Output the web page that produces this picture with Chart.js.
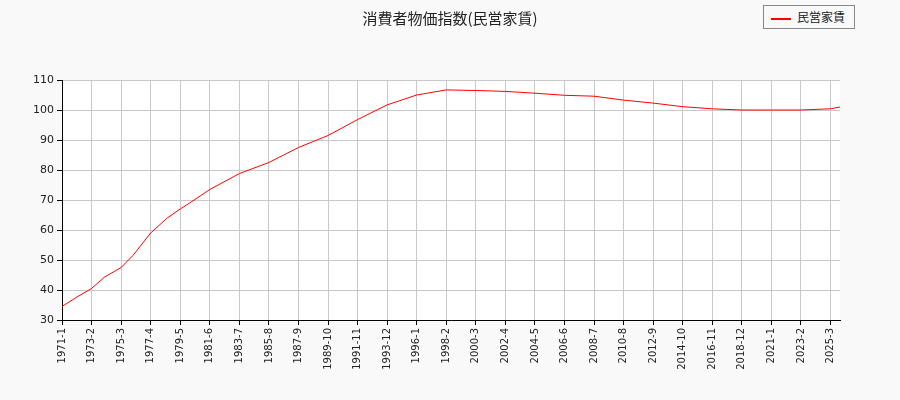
<!DOCTYPE html>
<html><head><meta charset="utf-8">
<script src="https://cdn.jsdelivr.net/npm/chart.js@4"></script>
<style>
body{margin:0;background:#f9f9f9;font-family:"Noto Sans CJK JP","DejaVu Sans",sans-serif;}
#wrap{position:relative;width:900px;height:400px;}
#title{position:absolute;top:7px;left:0;width:900px;text-align:center;font-size:15px;color:#222;}
#legend{position:absolute;left:763px;top:5px;width:90px;height:22px;border:1px solid #888;background:#f9f9f9;font-size:12px;line-height:22px;color:#222;}
#legend span{display:inline-block;width:20px;height:2px;background:#f00;vertical-align:middle;margin:0 6px 0 7px;}
</style></head><body>
<div id="wrap"><canvas id="c" width="900" height="400"></canvas>
<div id="title">消費者物価指数(民営家賃)</div>
<div id="legend"><span></span>民営家賃</div></div>
<script>
const startYear = 1971, monthCount = 659;
const seriesName = "民営家賃";
const pointMonths = ["1971-1","1972-1","1973-2","1974-1","1975-3","1976-1","1977-4","1978-6","1979-5","1980-1","1981-6","1983-7","1985-8","1987-9","1989-10","1991-11","1993-12","1996-1","1998-2","2000-3","2002-4","2004-5","2006-6","2008-7","2010-8","2012-9","2014-10","2016-11","2018-12","2021-1","2023-2","2025-3","2025-11"];
const pointValues = [34.5,37.5,40.5,44.3,47.5,51.5,59,64,67,69,73.5,78.8,82.5,87.5,91.5,96.8,101.7,105,106.7,106.5,106.2,105.6,104.9,104.6,103.3,102.3,101.1,100.4,100.0,100.0,100.0,100.4,101.0];
const labels = [];
for (let i=0;i<monthCount;i++){ labels.push((startYear+Math.floor(i/12))+"-"+(i%12+1)); }
new Chart(document.getElementById('c'),{
 type:'line',
 data:{labels,datasets:[{label:seriesName,data:pointMonths.map((m,i)=>({x:m,y:pointValues[i]})),borderColor:'#ff0000',borderWidth:1,pointRadius:0,tension:0}]},
 plugins:[{id:'bg',beforeDraw(ch){const a=ch.chartArea,c=ch.ctx;c.save();c.fillStyle='#fff';c.fillRect(a.left,a.top,a.right-a.left,a.bottom-a.top);c.restore();}}],
 options:{responsive:false,animation:false,
  layout:{padding:{top:80,right:60,left:0,bottom:0}},
  plugins:{legend:{display:false},title:{display:false},tooltip:{enabled:false}},
  scales:{
   x:{type:'category',offset:false,
     afterBuildTicks(s){s.ticks=s.ticks.filter(t=>t.value%25===0);},
     afterFit(s){s.height=80;},
     border:{color:'#000'},
     grid:{color:'#c8c8c8',tickColor:'#000',tickLength:5},
     ticks:{autoSkip:false,maxRotation:90,minRotation:90,color:'#222',font:{family:'DejaVu Sans',size:10}}},
   y:{min:30,max:110,afterFit(s){s.width=62;},
     border:{color:'#000'},
     grid:{color:c=>c.tick.value%10===0?'#c8c8c8':'rgba(0,0,0,0)',tickColor:'#000',tickLength:5},
     ticks:{stepSize:5,color:'#222',font:{family:'DejaVu Sans',size:11},callback:v=>v%10===0?v:''}}
  }}
});
</script></body></html>
